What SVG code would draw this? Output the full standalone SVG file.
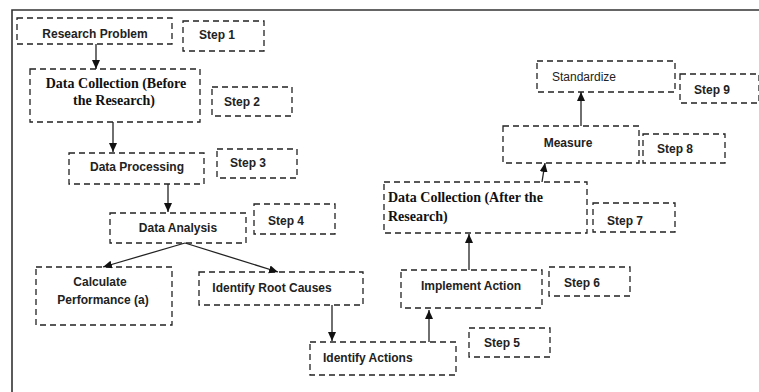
<svg xmlns="http://www.w3.org/2000/svg" width="759" height="392" viewBox="0 0 759 392">
<style>
.box{fill:#fff;stroke:#222;stroke-width:1.3;stroke-dasharray:6 4}
.s{font-family:"Liberation Sans",Arial,sans-serif;font-weight:bold;font-size:12px;fill:#222}
.r{font-family:"Liberation Sans",Arial,sans-serif;font-size:12px;fill:#222}
.t{font-family:"Liberation Serif","Times New Roman",serif;font-weight:bold;font-size:14px;fill:#111}
.c{stroke:#222;stroke-width:1.3;fill:none;marker-end:url(#ah)}
.frame{stroke:#333;stroke-width:1.6;fill:none}
</style>
<defs>
<marker id="ah" markerUnits="userSpaceOnUse" markerWidth="10" markerHeight="10" refX="9" refY="4" orient="auto">
<path d="M0,0 L9,4 L0,8 Z" fill="#111"/>
</marker>
</defs>
<rect width="759" height="392" fill="#fff"/>
<path class="frame" d="M759,10 H12 V392"/>

<g id="research-problem"><rect class="box" x="17" y="18" width="155" height="26"/><text class="s" x="95" y="38" text-anchor="middle">Research Problem</text></g>
<g id="step1"><rect class="box" x="183" y="21" width="81" height="30"/><text class="s" x="199" y="39">Step 1</text></g>
<g id="data-collection-before"><rect class="box" x="30" y="69" width="170" height="53"/><text class="t" x="116" y="88" text-anchor="middle">Data Collection (Before</text><text class="t" x="114" y="105" text-anchor="middle">the Research)</text></g>
<g id="step2"><rect class="box" x="212" y="87" width="80" height="29"/><text class="s" x="224" y="106">Step 2</text></g>
<g id="data-processing"><rect class="box" x="69" y="153" width="135" height="31"/><text class="s" x="137" y="171" text-anchor="middle">Data Processing</text></g>
<g id="step3"><rect class="box" x="217" y="149" width="80" height="29"/><text class="s" x="230" y="167">Step 3</text></g>
<g id="data-analysis"><rect class="box" x="110" y="213" width="136" height="30"/><text class="s" x="178" y="232" text-anchor="middle">Data Analysis</text></g>
<g id="step4"><rect class="box" x="254" y="204" width="81" height="30"/><text class="s" x="268" y="225">Step 4</text></g>
<g id="calculate-performance"><rect class="box" x="36" y="267" width="136" height="58"/><text class="s" x="100" y="286" text-anchor="middle">Calculate</text><text class="s" x="103" y="304" text-anchor="middle">Performance (a)</text></g>
<g id="identify-root-causes"><rect class="box" x="199" y="272" width="164" height="33"/><text class="s" x="272" y="292" text-anchor="middle">Identify Root Causes</text></g>
<g id="identify-actions"><rect class="box" x="310" y="342" width="146" height="33"/><text class="s" x="323" y="362">Identify Actions</text></g>
<g id="step5"><rect class="box" x="469" y="328" width="81" height="29"/><text class="s" x="484" y="347">Step 5</text></g>
<g id="implement-action"><rect class="box" x="401" y="270" width="141" height="38"/><text class="s" x="471" y="290" text-anchor="middle">Implement Action</text></g>
<g id="step6"><rect class="box" x="549" y="267" width="81" height="29"/><text class="s" x="564" y="287">Step 6</text></g>
<g id="data-collection-after"><rect class="box" x="384" y="182" width="203" height="51"/><text class="t" x="388" y="202">Data Collection (After the</text><text class="t" x="388" y="221">Research)</text></g>
<g id="step7"><rect class="box" x="593" y="203" width="82" height="29"/><text class="s" x="607" y="225">Step 7</text></g>
<g id="measure"><rect class="box" x="503" y="126" width="136" height="37"/><text class="s" x="568" y="147" text-anchor="middle">Measure</text></g>
<g id="step8"><rect class="box" x="643" y="134" width="82" height="29"/><text class="s" x="657" y="153">Step 8</text></g>
<g id="standardize"><rect class="box" x="537" y="61" width="138" height="31"/><text class="r" x="552" y="81">Standardize</text></g>
<g id="step9"><rect class="box" x="680" y="74" width="79" height="29"/><text class="s" x="694" y="94">Step 9</text></g>

<g id="connectors">
<line class="c" x1="96" y1="44" x2="96" y2="69"/>
<line class="c" x1="113" y1="122" x2="113" y2="152"/>
<line class="c" x1="168" y1="184" x2="168" y2="212"/>
<line class="c" x1="185" y1="243" x2="103" y2="267"/>
<line class="c" x1="185" y1="243" x2="278" y2="272"/>
<line class="c" x1="332" y1="305" x2="332" y2="341"/>
<line class="c" x1="429" y1="342" x2="429" y2="310"/>
<line class="c" x1="469" y1="270" x2="469" y2="234"/>
<line class="c" x1="542" y1="182" x2="545" y2="163"/>
<line class="c" x1="581" y1="126" x2="581" y2="92"/>
</g>
</svg>
